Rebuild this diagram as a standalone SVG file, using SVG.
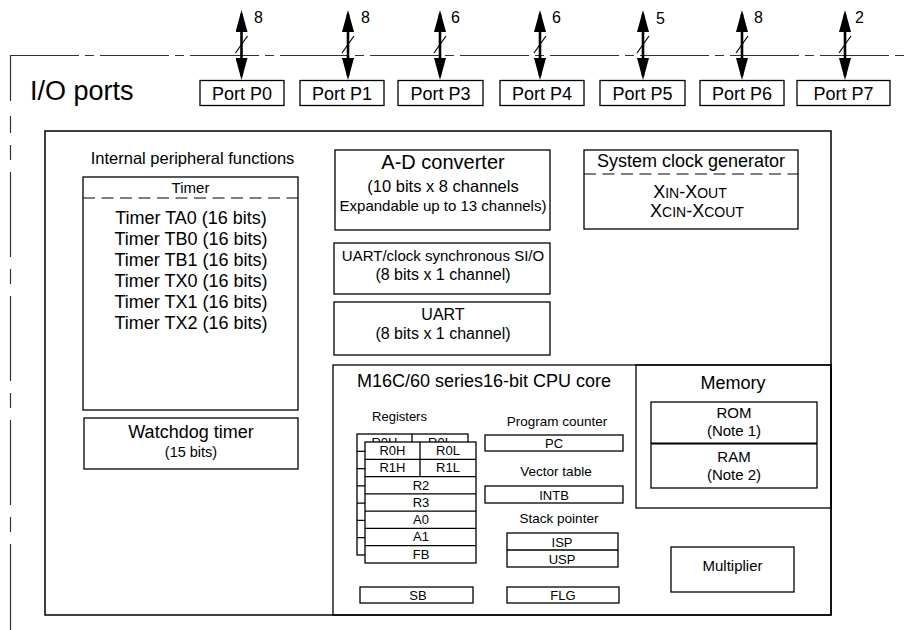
<svg xmlns="http://www.w3.org/2000/svg" width="904" height="630" viewBox="0 0 904 630">
<defs>
<marker id="ah" viewBox="0 0 22 12" refX="18" refY="6" markerWidth="22" markerHeight="12" markerUnits="userSpaceOnUse" orient="auto-start-reverse"><path d="M0,0 L22,6 L0,12 z" fill="#000"/></marker>
<clipPath id="backclip"><rect x="357" y="434" width="111" height="8"/></clipPath>
</defs>
<style>
text{font-family:"Liberation Sans",Arial,Helvetica,sans-serif;fill:#000}
.b{fill:#fff;stroke:#000;stroke-width:1.3}
.n{fill:none;stroke:#000;stroke-width:1.3}
.c{text-anchor:middle}
.dash{fill:none;stroke:#000;stroke-width:1.2;stroke-dasharray:12 6.5}
.bus{stroke:#000;stroke-width:2.6;marker-start:url(#ah);marker-end:url(#ah)}
.sl{stroke:#000;stroke-width:1.2}
.f13{font-size:13px}.f15{font-size:15px}.f16{font-size:16px}.f18{font-size:18px}
</style>
<rect width="904" height="630" fill="#fff"/>

<g id="io-frame">
<path d="M10,55.5 H904" fill="none" stroke="#333" stroke-width="1.2" stroke-dasharray="69 6 9 6"/>
<path d="M10.5,55 V630" fill="none" stroke="#333" stroke-width="1.2" stroke-dasharray="46 15 17 12 15 12 85 12 15 12 85 12 15 12 85 12 15 12 86"/>
<text x="30" y="100" font-size="27">I/O ports</text>
</g>

<g id="port-p0"><rect class="b" x="200" y="80.5" width="84" height="25"/><text class="c f18" x="242" y="100">Port P0</text></g>
<g id="port-p1"><rect class="b" x="300" y="80.5" width="84" height="25"/><text class="c f18" x="342" y="100">Port P1</text></g>
<g id="port-p3"><rect class="b" x="398" y="80.5" width="85" height="25"/><text class="c f18" x="440.5" y="100">Port P3</text></g>
<g id="port-p4"><rect class="b" x="500" y="80.5" width="84" height="25"/><text class="c f18" x="542" y="100">Port P4</text></g>
<g id="port-p5"><rect class="b" x="600" y="80.5" width="85" height="25"/><text class="c f18" x="642.5" y="100">Port P5</text></g>
<g id="port-p6"><rect class="b" x="700" y="80.5" width="84" height="25"/><text class="c f18" x="742" y="100">Port P6</text></g>
<g id="port-p7"><rect class="b" x="797" y="80.5" width="93" height="25"/><text class="c f18" x="843.5" y="100">Port P7</text></g>

<g id="connectors">
<line class="bus" x1="241.5" y1="14" x2="241.5" y2="76"/><line class="sl" x1="235.5" y1="53" x2="247.5" y2="36"/><text class="f16" x="254" y="23">8</text>
<line class="bus" x1="348" y1="14" x2="348" y2="76"/><line class="sl" x1="342" y1="53" x2="354" y2="36"/><text class="f16" x="361" y="23">8</text>
<line class="bus" x1="440" y1="14" x2="440" y2="76"/><line class="sl" x1="434" y1="53" x2="446" y2="36"/><text class="f16" x="451" y="23">6</text>
<line class="bus" x1="540" y1="14" x2="540" y2="76"/><line class="sl" x1="534" y1="53" x2="546" y2="36"/><text class="f16" x="552" y="23">6</text>
<line class="bus" x1="643" y1="14" x2="643" y2="76"/><line class="sl" x1="637" y1="53" x2="649" y2="36"/><text class="f16" x="656" y="24">5</text>
<line class="bus" x1="742" y1="14" x2="742" y2="76"/><line class="sl" x1="736" y1="53" x2="748" y2="36"/><text class="f16" x="754" y="23">8</text>
<line class="bus" x1="845" y1="14" x2="845" y2="76"/><line class="sl" x1="839" y1="53" x2="851" y2="36"/><text class="f16" x="855" y="23">2</text>
</g>

<g id="internal-box">
<rect x="45" y="131" width="786" height="484" fill="none" stroke="#000" stroke-width="1.5"/>
<text class="c" x="192.5" y="164" font-size="16.5">Internal peripheral functions</text>
</g>

<g id="timer">
<rect class="b" x="83" y="177" width="215" height="233"/>
<line class="dash" x1="83" y1="198" x2="298" y2="198"/>
<text class="c f15" x="190.5" y="193">Timer</text>
<text class="c f18" x="191" y="224">Timer TA0 (16 bits)</text>
<text class="c f18" x="191" y="245">Timer TB0 (16 bits)</text>
<text class="c f18" x="191" y="266">Timer TB1 (16 bits)</text>
<text class="c f18" x="191" y="287">Timer TX0 (16 bits)</text>
<text class="c f18" x="191" y="308">Timer TX1 (16 bits)</text>
<text class="c f18" x="191" y="329">Timer TX2 (16 bits)</text>
</g>

<g id="watchdog">
<rect class="b" x="84" y="418" width="214" height="51"/>
<text class="c f18" x="191" y="438">Watchdog timer</text>
<text class="c" x="191" y="457" font-size="14.5">(15 bits)</text>
</g>

<g id="ad-converter">
<rect class="b" x="335" y="150" width="215" height="80"/>
<text class="c" x="443" y="169" font-size="20">A-D converter</text>
<text class="c" x="443" y="192" font-size="16.5">(10 bits x 8 channels</text>
<text class="c f15" x="443" y="211">Expandable up to 13 channels)</text>
</g>

<g id="uart-sio">
<rect class="b" x="334" y="243" width="216" height="51"/>
<text class="c f15" x="443" y="261">UART/clock synchronous SI/O</text>
<text class="c f16" x="443" y="280">(8 bits x 1 channel)</text>
</g>

<g id="uart">
<rect class="b" x="334" y="302" width="216" height="53"/>
<text class="c f16" x="443" y="320">UART</text>
<text class="c f16" x="443" y="339">(8 bits x 1 channel)</text>
</g>

<g id="clock-gen">
<rect class="b" x="584" y="150" width="214" height="79"/>
<text class="c f18" x="691" y="167">System clock generator</text>
<line class="dash" x1="584" y1="174" x2="798" y2="174"/>
<text class="c f18" x="690" y="198">X<tspan font-size="14">IN</tspan>-X<tspan font-size="14">OUT</tspan></text>
<text class="c f18" x="697" y="217">X<tspan font-size="14">CIN</tspan>-X<tspan font-size="14">COUT</tspan></text>
</g>

<g id="cpu-core">
<rect class="n" x="333" y="365" width="498" height="250"/>
<text class="f18" x="357" y="387">M16C/60 series16-bit CPU core</text>
</g>

<g id="registers">
<text class="f13" x="399.5" y="421" text-anchor="middle">Registers</text>
<g id="reg-back">
<rect class="b" x="357" y="434" width="111" height="121"/>
<path class="n" d="M357,451.3 H468 M357,468.6 H468 M357,485.9 H468 M357,503.1 H468 M357,520.4 H468 M357,537.7 H468 M412,434 V451.3"/>
<g clip-path="url(#backclip)">
<text class="c f13" x="384.5" y="447">R0H</text>
<text class="c f13" x="440" y="447">R0L</text>
</g>
</g>
<g id="reg-front">
<rect class="b" x="365" y="442" width="111" height="121"/>
<path class="n" d="M365,459.3 H476 M365,476.6 H476 M365,493.9 H476 M365,511.1 H476 M365,528.4 H476 M365,545.7 H476 M420,442 V476.6"/>
<text class="c f13" x="392.5" y="455">R0H</text>
<text class="c f13" x="448" y="455">R0L</text>
<text class="c f13" x="392.5" y="472.3">R1H</text>
<text class="c f13" x="448" y="472.3">R1L</text>
<text class="c f13" x="421" y="489.6">R2</text>
<text class="c f13" x="421" y="506.9">R3</text>
<text class="c f13" x="421" y="524.1">A0</text>
<text class="c f13" x="421" y="541.4">A1</text>
<text class="c f13" x="421" y="558.7">FB</text>
</g>
</g>

<g id="program-counter">
<text class="c" x="557" y="426" font-size="13.5">Program counter</text>
<rect class="b" x="485" y="435" width="138" height="16"/>
<text class="c f13" x="554" y="448">PC</text>
</g>

<g id="vector-table">
<text class="c" x="556" y="476" font-size="13.5">Vector table</text>
<rect class="b" x="485" y="486" width="138" height="17"/>
<text class="c f13" x="554" y="499.5">INTB</text>
</g>

<g id="stack-pointer">
<text class="c" x="559" y="523" font-size="13.5">Stack pointer</text>
<rect class="b" x="507" y="533" width="111" height="34"/>
<line class="n" x1="507" y1="550" x2="618" y2="550"/>
<text class="c f13" x="562" y="546.5">ISP</text>
<text class="c f13" x="562" y="563.5">USP</text>
</g>

<g id="sb"><rect class="b" x="360" y="587" width="113" height="16"/><text class="c f13" x="418" y="600">SB</text></g>
<g id="flg"><rect class="b" x="507" y="587" width="112" height="16"/><text class="c f13" x="563" y="600">FLG</text></g>

<g id="memory">
<rect class="n" x="636" y="365" width="195" height="143"/>
<text class="c f18" x="733" y="389">Memory</text>
<rect class="b" x="651" y="402" width="166" height="86"/>
<line x1="651" y1="443.5" x2="817" y2="443.5" stroke="#000" stroke-width="2"/>
<text class="c f15" x="734" y="418">ROM</text>
<text class="c f15" x="734" y="436">(Note 1)</text>
<text class="c f15" x="734" y="462">RAM</text>
<text class="c f15" x="734" y="480">(Note 2)</text>
</g>

<g id="multiplier">
<rect class="b" x="671" y="547" width="123" height="45"/>
<text class="c f15" x="732.5" y="571">Multiplier</text>
</g>
</svg>
